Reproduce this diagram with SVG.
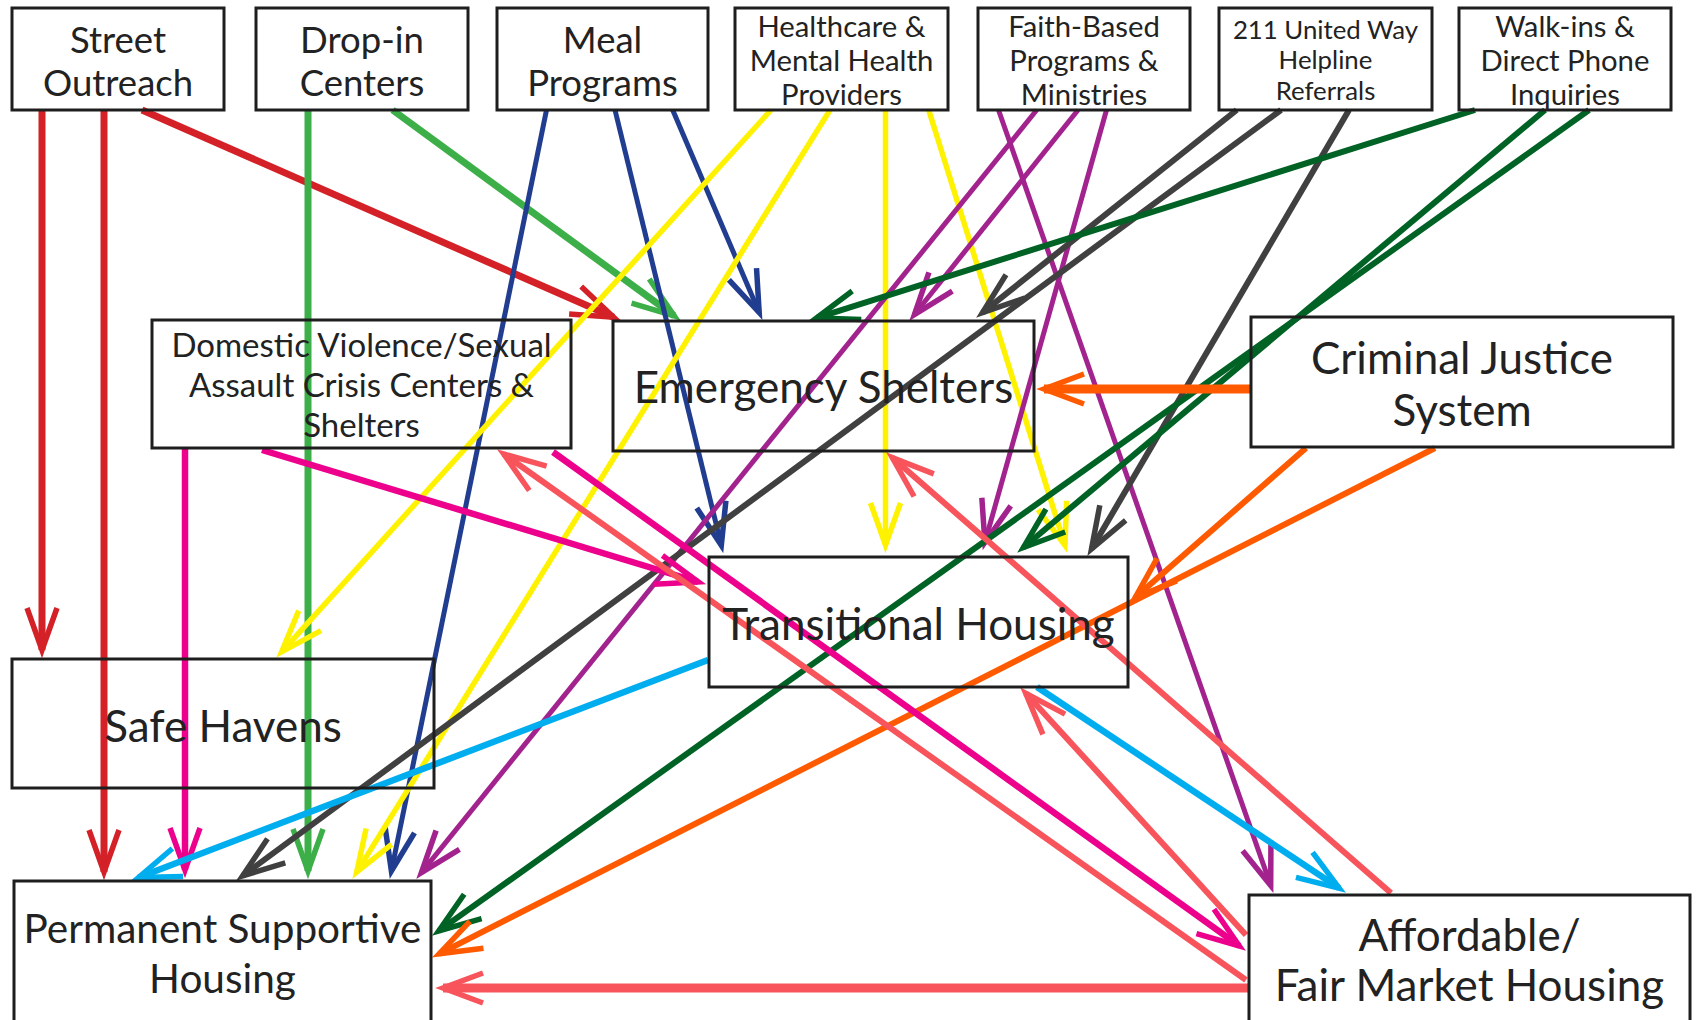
<svg xmlns="http://www.w3.org/2000/svg" width="1696" height="1020" viewBox="0 0 1696 1020">
<style>
.box{fill:none;stroke:#1e1e1e;stroke-width:3}
.t{font-family:Lato,"Open Sans","Liberation Sans",sans-serif;fill:#222;text-anchor:middle}
.c{fill:none;stroke-linecap:butt}
.h{fill:none;stroke-width:5.5;stroke-linejoin:miter;stroke-miterlimit:6}
.red{stroke:#d42027;stroke-width:7}
.grn{stroke:#3daf49;stroke-width:7}
.nav{stroke:#213d8f;stroke-width:5}
.yel{stroke:#fff200;stroke-width:5.5}
.pur{stroke:#a3238e;stroke-width:5}
.gry{stroke:#404040;stroke-width:6}
.dgr{stroke:#006325;stroke-width:6}
.org{stroke:#ff5a00;stroke-width:6}
.mag{stroke:#ec008c;stroke-width:6.5}
.lbl{stroke:#00aeef;stroke-width:6.5}
.sal{stroke:#f7545b;stroke-width:6}
.thick{stroke-width:9}
</style>
<defs>
<marker id="a-red" viewBox="-50 -25 60 50" refX="0" refY="0" markerWidth="60" markerHeight="50" markerUnits="userSpaceOnUse" orient="auto" overflow="visible"><path class="h" stroke="#d42027" d="M-42,-15 L0,0 L-42,15"/></marker>
<marker id="a-grn" viewBox="-50 -25 60 50" refX="0" refY="0" markerWidth="60" markerHeight="50" markerUnits="userSpaceOnUse" orient="auto" overflow="visible"><path class="h" stroke="#3daf49" d="M-42,-15 L0,0 L-42,15"/></marker>
<marker id="a-nav" viewBox="-50 -25 60 50" refX="0" refY="0" markerWidth="60" markerHeight="50" markerUnits="userSpaceOnUse" orient="auto" overflow="visible"><path class="h" stroke="#213d8f" d="M-42,-15 L0,0 L-42,15"/></marker>
<marker id="a-yel" viewBox="-50 -25 60 50" refX="0" refY="0" markerWidth="60" markerHeight="50" markerUnits="userSpaceOnUse" orient="auto" overflow="visible"><path class="h" stroke="#fff200" d="M-42,-15 L0,0 L-42,15"/></marker>
<marker id="a-pur" viewBox="-50 -25 60 50" refX="0" refY="0" markerWidth="60" markerHeight="50" markerUnits="userSpaceOnUse" orient="auto" overflow="visible"><path class="h" stroke="#a3238e" d="M-42,-15 L0,0 L-42,15"/></marker>
<marker id="a-gry" viewBox="-50 -25 60 50" refX="0" refY="0" markerWidth="60" markerHeight="50" markerUnits="userSpaceOnUse" orient="auto" overflow="visible"><path class="h" stroke="#404040" d="M-42,-15 L0,0 L-42,15"/></marker>
<marker id="a-dgr" viewBox="-50 -25 60 50" refX="0" refY="0" markerWidth="60" markerHeight="50" markerUnits="userSpaceOnUse" orient="auto" overflow="visible"><path class="h" stroke="#006325" d="M-42,-15 L0,0 L-42,15"/></marker>
<marker id="a-org" viewBox="-50 -25 60 50" refX="0" refY="0" markerWidth="60" markerHeight="50" markerUnits="userSpaceOnUse" orient="auto" overflow="visible"><path class="h" stroke="#ff5a00" d="M-42,-15 L0,0 L-42,15"/></marker>
<marker id="a-org2" viewBox="-50 -25 60 50" refX="0" refY="0" markerWidth="60" markerHeight="50" markerUnits="userSpaceOnUse" orient="auto" overflow="visible"><path class="h" stroke="#ff5a00" stroke-width="7" d="M-40,-15 L0,0 L-40,15"/></marker>
<marker id="a-mag" viewBox="-50 -25 60 50" refX="0" refY="0" markerWidth="60" markerHeight="50" markerUnits="userSpaceOnUse" orient="auto" overflow="visible"><path class="h" stroke="#ec008c" d="M-42,-15 L0,0 L-42,15"/></marker>
<marker id="a-lbl" viewBox="-50 -25 60 50" refX="0" refY="0" markerWidth="60" markerHeight="50" markerUnits="userSpaceOnUse" orient="auto" overflow="visible"><path class="h" stroke="#00aeef" d="M-42,-15 L0,0 L-42,15"/></marker>
<marker id="a-sal" viewBox="-50 -25 60 50" refX="0" refY="0" markerWidth="60" markerHeight="50" markerUnits="userSpaceOnUse" orient="auto" overflow="visible"><path class="h" stroke="#f7545b" d="M-42,-15 L0,0 L-42,15"/></marker>
<marker id="a-sal2" viewBox="-50 -25 60 50" refX="0" refY="0" markerWidth="60" markerHeight="50" markerUnits="userSpaceOnUse" orient="auto" overflow="visible"><path class="h" stroke="#f7545b" stroke-width="7" d="M-40,-15 L0,0 L-40,15"/></marker>
</defs>
<rect width="1696" height="1020" fill="#fff"/>
<g id="connectors">
<path class="c red" marker-end="url(#a-red)" d="M42,110 L42,650"/>
<path class="c red" marker-end="url(#a-red)" d="M104,110 L104,872"/>
<path class="c red" marker-end="url(#a-red)" d="M142,110 L613.6,317.2"/>
<path class="c grn" marker-end="url(#a-grn)" d="M308,110 L308,871"/>
<path class="c grn" marker-end="url(#a-grn)" d="M392.6,110 L674.3,315.9"/>
<path class="c nav" marker-end="url(#a-nav)" d="M546.5,110 L391.4,871.1"/>
<path class="c nav" marker-end="url(#a-nav)" d="M615,110 L721.3,545.2"/>
<path class="c nav" marker-end="url(#a-nav)" d="M672.7,110 L759.2,312.6"/>
<path class="c yel" marker-end="url(#a-yel)" d="M771,110 L281.7,651.8"/>
<path class="c yel" marker-end="url(#a-yel)" d="M830,110 L356.7,872.1"/>
<path class="c yel" marker-end="url(#a-yel)" d="M885.5,110 L885.5,545"/>
<path class="c yel" marker-end="url(#a-yel)" d="M928.7,110 L1064.9,545.3"/>
<path class="c pur" marker-end="url(#a-pur)" d="M998.5,110 L1270.7,885.4"/>
<path class="c pur" marker-end="url(#a-pur)" d="M1036.7,110 L421.4,872.6"/>
<path class="c pur" marker-end="url(#a-pur)" d="M1078,110 L914.4,314.5"/>
<path class="c pur" marker-end="url(#a-pur)" d="M1106.5,110 L984.9,542.3"/>
<path class="c gry" marker-end="url(#a-gry)" d="M1236.7,110 L982.5,312.6"/>
<path class="c gry" marker-end="url(#a-gry)" d="M1281,110 L242.6,875.8"/>
<path class="c gry" marker-end="url(#a-gry)" d="M1349,110 L1091.5,549"/>
<path class="c dgr" marker-end="url(#a-dgr)" d="M1475,110 L816.7,317.9"/>
<path class="c dgr" marker-end="url(#a-dgr)" d="M1545,110 L1023.4,547.5"/>
<path class="c dgr" marker-end="url(#a-dgr)" d="M1589,110 L438.7,930.9"/>
<path class="c org thick" marker-end="url(#a-org2)" d="M1251,389 L1044,389"/>
<path class="c org" marker-end="url(#a-org)" d="M1306,448 L1135.3,597.4"/>
<path class="c org" marker-end="url(#a-org)" d="M1435,448 L439.2,953.8"/>
<path class="c mag" marker-end="url(#a-mag)" d="M185,448 L185,870"/>
<path class="c mag" marker-end="url(#a-mag)" d="M262,450 L698.3,582"/>
<path class="c mag" marker-end="url(#a-mag)" d="M553,452 L1239.3,945.9"/>
<path class="c lbl" marker-end="url(#a-lbl)" d="M708,660 L138.5,877.5"/>
<path class="c lbl" marker-end="url(#a-lbl)" d="M1037,687 L1339.2,888.1"/>
<path class="c sal thick" marker-end="url(#a-sal2)" d="M1248,988 L443,988"/>
<path class="c sal" marker-end="url(#a-sal)" d="M1246,980 L503.7,454"/>
<path class="c sal" marker-end="url(#a-sal)" d="M1246,935 L1025.7,693.2"/>
<path class="c sal" marker-end="url(#a-sal)" d="M1391,893 L892.3,457.6"/>
</g>
<g id="street-outreach"><rect class="box" x="12" y="8" width="212" height="102"/><text class="t" font-size="36.5"><tspan x="118" y="53">Street</tspan><tspan x="118" y="96">Outreach</tspan></text></g>
<g id="drop-in-centers"><rect class="box" x="256" y="8" width="212" height="102"/><text class="t" font-size="36.5"><tspan x="362" y="53">Drop-in</tspan><tspan x="362" y="96">Centers</tspan></text></g>
<g id="meal-programs"><rect class="box" x="497" y="8" width="211" height="102"/><text class="t" font-size="36.5"><tspan x="602.5" y="53">Meal</tspan><tspan x="602.5" y="96">Programs</tspan></text></g>
<g id="healthcare"><rect class="box" x="735" y="8" width="213" height="102"/><text class="t" font-size="29.3"><tspan x="841.5" y="36.5">Healthcare &amp;</tspan><tspan x="841.5" y="70.5">Mental Health</tspan><tspan x="841.5" y="105">Providers</tspan></text></g>
<g id="faith-based"><rect class="box" x="978" y="8" width="212" height="102"/><text class="t" font-size="29.3"><tspan x="1084" y="36.5">Faith-Based</tspan><tspan x="1084" y="70.5">Programs &amp;</tspan><tspan x="1084" y="105">Ministries</tspan></text></g>
<g id="united-way-211"><rect class="box" x="1219" y="8" width="213" height="102"/><text class="t" font-size="25.8"><tspan x="1325.5" y="38.5">211 United Way</tspan><tspan x="1325.5" y="68.5">Helpline</tspan><tspan x="1325.5" y="99.5">Referrals</tspan></text></g>
<g id="walk-ins"><rect class="box" x="1459" y="8" width="212" height="102"/><text class="t" font-size="29.3"><tspan x="1565" y="36.5">Walk-ins &amp;</tspan><tspan x="1565" y="70.5">Direct Phone</tspan><tspan x="1565" y="105">Inquiries</tspan></text></g>
<g id="domestic-violence"><rect class="box" x="152" y="320" width="419" height="128"/><text class="t" font-size="33"><tspan x="361.5" y="357">Domestic Violence/Sexual</tspan><tspan x="361.5" y="397">Assault Crisis Centers &amp;</tspan><tspan x="361.5" y="437">Shelters</tspan></text></g>
<g id="emergency-shelters"><rect class="box" x="613" y="321" width="421" height="130"/><text class="t" font-size="44" x="823.5" y="403">Emergency Shelters</text></g>
<g id="criminal-justice"><rect class="box" x="1251" y="317" width="422" height="130"/><text class="t" font-size="44"><tspan x="1462" y="374">Criminal Justice</tspan><tspan x="1462" y="426">System</tspan></text></g>
<g id="transitional-housing"><rect class="box" x="709" y="557" width="419" height="130"/><text class="t" font-size="44" x="918.5" y="640">Transitional Housing</text></g>
<g id="safe-havens"><rect class="box" x="12" y="659" width="422" height="129"/><text class="t" font-size="44" x="223" y="742">Safe Havens</text></g>
<g id="permanent-supportive-housing"><rect class="box" x="14" y="881" width="417" height="150"/><text class="t" font-size="40.5"><tspan x="222.5" y="943">Permanent Supportive</tspan><tspan x="222.5" y="993">Housing</tspan></text></g>
<g id="affordable-housing"><rect class="box" x="1249" y="895" width="441" height="140"/><text class="t" font-size="44"><tspan x="1469.5" y="951">Affordable/</tspan><tspan x="1469.5" y="1001">Fair Market Housing</tspan></text></g>
</svg>
